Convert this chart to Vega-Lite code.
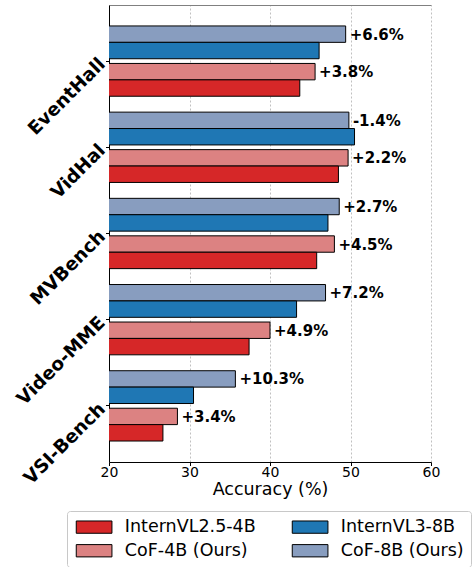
{
  "$schema": "https://vega.github.io/schema/vega-lite/v6.json",
  "width": 322,
  "height": 457,
  "autosize": {"type": "none"},
  "padding": {"left": 109, "top": 5, "right": 44, "bottom": 105},
  "data": {
    "values": [
      {"bench": "EventHall", "model": "CoF-8B (Ours)", "acc": 49.4, "gain": "+6.6%"},
      {"bench": "EventHall", "model": "InternVL3-8B", "acc": 46.1},
      {"bench": "EventHall", "model": "CoF-4B (Ours)", "acc": 45.6, "gain": "+3.8%"},
      {"bench": "EventHall", "model": "InternVL2.5-4B", "acc": 43.7},
      {"bench": "VidHal", "model": "CoF-8B (Ours)", "acc": 49.8, "gain": "-1.4%"},
      {"bench": "VidHal", "model": "InternVL3-8B", "acc": 50.5},
      {"bench": "VidHal", "model": "CoF-4B (Ours)", "acc": 49.7, "gain": "+2.2%"},
      {"bench": "VidHal", "model": "InternVL2.5-4B", "acc": 48.5},
      {"bench": "MVBench", "model": "CoF-8B (Ours)", "acc": 48.6, "gain": "+2.7%"},
      {"bench": "MVBench", "model": "InternVL3-8B", "acc": 47.2},
      {"bench": "MVBench", "model": "CoF-4B (Ours)", "acc": 48.0, "gain": "+4.5%"},
      {"bench": "MVBench", "model": "InternVL2.5-4B", "acc": 45.8},
      {"bench": "Video-MME", "model": "CoF-8B (Ours)", "acc": 46.9, "gain": "+7.2%"},
      {"bench": "Video-MME", "model": "InternVL3-8B", "acc": 43.3},
      {"bench": "Video-MME", "model": "CoF-4B (Ours)", "acc": 40.0, "gain": "+4.9%"},
      {"bench": "Video-MME", "model": "InternVL2.5-4B", "acc": 37.4},
      {"bench": "VSI-Bench", "model": "CoF-8B (Ours)", "acc": 35.7, "gain": "+10.3%"},
      {"bench": "VSI-Bench", "model": "InternVL3-8B", "acc": 30.5},
      {"bench": "VSI-Bench", "model": "CoF-4B (Ours)", "acc": 28.5, "gain": "+3.4%"},
      {"bench": "VSI-Bench", "model": "InternVL2.5-4B", "acc": 26.7}
    ]
  },
  "layer": [
    {
      "transform": [{"filter": {"field": "model", "oneOf": ["CoF-8B (Ours)", "InternVL3-8B"]}}],
      "mark": {"type": "bar", "clip": true, "stroke": "black", "strokeWidth": 1},
      "encoding": {
        "y": {"field": "bench", "type": "nominal", "sort": null,
              "scale": {"domain": ["EventHall", "VidHal", "MVBench", "Video-MME", "VSI-Bench"], "paddingInner": 0.184, "paddingOuter": 0.243}},
        "yOffset": {"field": "model", "type": "nominal", "scale": {"domain": ["CoF-8B (Ours)", "InternVL3-8B"], "range": [0, 32.8], "paddingInner": 0, "paddingOuter": 0}},
        "x": {"field": "acc", "type": "quantitative",
              "scale": {"domain": [20, 60], "zero": false, "nice": false},
              "axis": {"values": [20, 30, 40, 50, 60], "title": "Accuracy (%)", "grid": true}},
        "color": {"field": "model", "type": "nominal",
                  "scale": {"domain": ["InternVL2.5-4B", "InternVL3-8B", "CoF-4B (Ours)", "CoF-8B (Ours)"],
                            "range": ["#d62728", "#1f77b4", "#dc8282", "#889dbf"]},
                  "legend": {"orient": "none", "legendX": -42, "legendY": 506, "direction": "horizontal", "columns": 2,
                             "strokeColor": "#c8c8c8", "fillColor": "white"}}
      }
    },
    {
      "transform": [{"filter": {"field": "model", "equal": "CoF-8B (Ours)"}}],
      "mark": {"type": "text", "align": "left", "baseline": "middle", "dx": 4, "dy": 8.7, "fontSize": 15, "fontWeight": "bold", "font": "DejaVu Sans", "color": "black"},
      "encoding": {
        "y": {"field": "bench", "type": "nominal", "sort": null},
        "yOffset": {"field": "model", "type": "nominal", "scale": {"domain": ["CoF-8B (Ours)", "InternVL3-8B"], "range": [0, 32.8], "paddingInner": 0, "paddingOuter": 0}},
        "x": {"field": "acc", "type": "quantitative", "axis": null},
        "text": {"field": "gain"}
      }
    },
    {
      "transform": [{"filter": {"field": "model", "oneOf": ["CoF-4B (Ours)", "InternVL2.5-4B"]}}],
      "mark": {"type": "bar", "clip": true, "stroke": "black", "strokeWidth": 1},
      "encoding": {
        "y": {"field": "bench", "type": "nominal", "sort": null},
        "yOffset": {"field": "model", "type": "nominal", "scale": {"domain": ["CoF-4B (Ours)", "InternVL2.5-4B"], "range": [37.5, 70.3], "paddingInner": 0, "paddingOuter": 0}},
        "x": {"field": "acc", "type": "quantitative", "axis": null},
        "color": {"field": "model", "type": "nominal"}
      }
    },
    {
      "transform": [{"filter": {"field": "model", "equal": "CoF-4B (Ours)"}}],
      "mark": {"type": "text", "align": "left", "baseline": "middle", "dx": 4, "dy": 8.7, "fontSize": 15, "fontWeight": "bold", "font": "DejaVu Sans", "color": "black"},
      "encoding": {
        "y": {"field": "bench", "type": "nominal", "sort": null},
        "yOffset": {"field": "model", "type": "nominal", "scale": {"domain": ["CoF-4B (Ours)", "InternVL2.5-4B"], "range": [37.5, 70.3], "paddingInner": 0, "paddingOuter": 0}},
        "x": {"field": "acc", "type": "quantitative",
              "axis": {"orient": "top", "labels": false, "ticks": false, "grid": false, "title": null, "domainColor": "#808080", "domainWidth": 1}},
        "text": {"field": "gain"}
      }
    }
  ],
  "resolve": {"scale": {"yOffset": "independent"}, "axis": {"x": "independent"}},
  "config": {
    "view": {"stroke": null},
    "font": "DejaVu Sans",
    "axis": {"zindex": 1, "domainColor": "black", "tickColor": "black", "labelColor": "black", "titleColor": "black", "labelFont": "DejaVu Sans", "titleFont": "DejaVu Sans"},
    "axisX": {"labelFontSize": 14, "titleFontSize": 17.5, "titleFontWeight": "normal", "tickSize": 3.5, "labelPadding": 0, "titlePadding": 1, "gridDash": [2, 2], "gridColor": "#b0b0b0", "gridOpacity": 1, "gridWidth": 0.8, "labelFlush": false},
    "axisY": {"title": null, "labelAngle": -45, "labelAlign": "right", "labelBaseline": "middle", "labelFontSize": 18.5, "labelFontWeight": "bold", "tickSize": 3.5, "labelPadding": 4, "grid": false},
    "legend": {"title": null, "symbolType": "M-2.975,-1.025H2.975V1.025H-2.975Z", "symbolSize": 144, "symbolOffset": 11.35, "symbolStrokeColor": "black", "symbolStrokeWidth": 1, "symbolOpacity": 1,
               "labelFontSize": 17.5, "labelFont": "DejaVu Sans", "labelColor": "black", "labelOffset": 22, "labelLimit": 300,
               "rowPadding": 5, "columnPadding": 34, "padding": 7, "cornerRadius": 3}
  }
}
